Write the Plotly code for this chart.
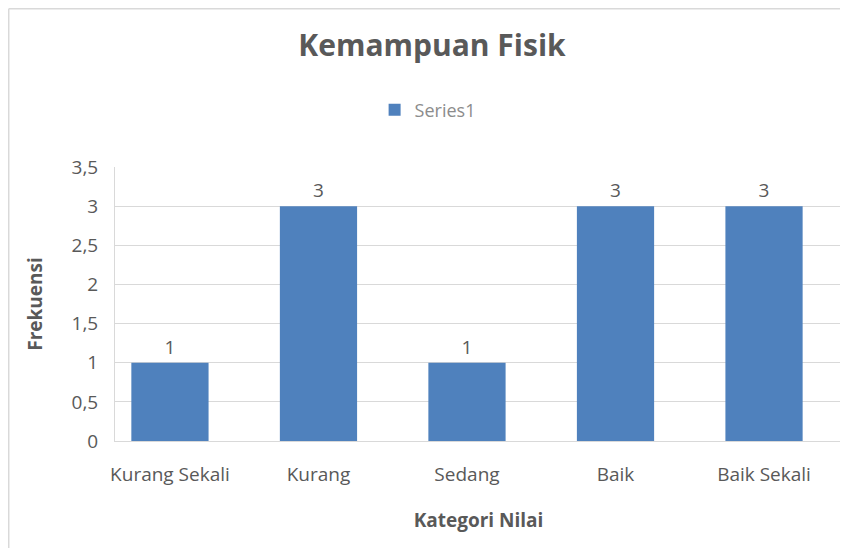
import plotly.graph_objects as go

categories = ["Kurang Sekali", "Kurang", "Sedang", "Baik", "Baik Sekali"]
values = [1, 3, 1, 3, 3]
series_name = "Series1"
title_text = "Kemampuan Fisik"
x_title = "Kategori Nilai"
y_title = "Frekuensi"

FONT = "Open Sans"
GRAY = "#595959"
GRID = "#d9d9d9"

fig = go.Figure()
fig.add_trace(go.Bar(
    x=categories, y=values, name=series_name,
    marker=dict(color="#4F81BD", line=dict(width=0)),
    width=0.52,
    text=values, textposition="outside", cliponaxis=False,
    textfont=dict(family=FONT, size=19, color=GRAY),
    showlegend=True,
))

fig.update_layout(
    width=848, height=548,
    margin=dict(l=107, r=14, t=159, b=115),
    paper_bgcolor="white", plot_bgcolor="white",
    separators=",.",
    font=dict(family=FONT, color=GRAY),
    title=dict(text="<b>" + title_text + "</b>", x=424/848, xref="container", xanchor="center",
               y=1 - 37/548, yref="container", yanchor="middle",
               font=dict(family=FONT, size=30, color=GRAY)),
    legend=dict(orientation="h", x=0.43, y=1.208, xanchor="center", yanchor="middle",
                font=dict(family=FONT, size=18, color="#8c8c8c"), itemwidth=30),
    xaxis=dict(range=[-0.37, 4.525], showgrid=False, showline=True, linecolor=GRID, linewidth=1,
               tickfont=dict(family=FONT, size=19, color=GRAY), ticklabelstandoff=16,
               title=dict(text="<b>" + x_title + "</b>", font=dict(family=FONT, size=19, color=GRAY), standoff=27)),
    yaxis=dict(range=[0, 3.5], dtick=0.5, showgrid=True, gridcolor=GRID, gridwidth=1,
               showline=True, linecolor=GRID, linewidth=1, zeroline=False,
               tickfont=dict(family=FONT, size=19, color=GRAY), ticklabelstandoff=12,
               title=dict(text="<b>" + y_title + "</b>", font=dict(family=FONT, size=19, color=GRAY), standoff=23)),
    shapes=[
        dict(type="line", xref="paper", yref="paper", x0=-0.1462, x1=-0.1462, y0=-0.5, y1=1.5775,
             line=dict(color=GRID, width=1.5)),
        dict(type="line", xref="paper", yref="paper", x0=-0.1462, x1=1.2, y0=1.5775, y1=1.5775,
             line=dict(color=GRID, width=1.5)),
    ],
)

fig.write_html("out.html")
